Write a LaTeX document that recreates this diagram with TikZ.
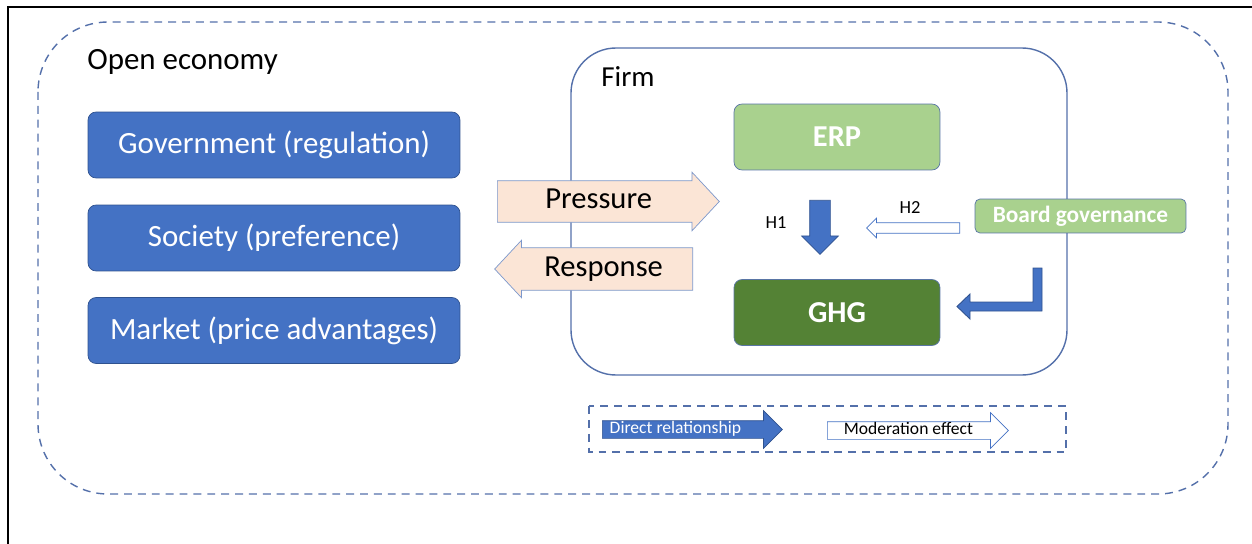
\documentclass[tikz,border=0pt]{standalone}
\usepackage{fontspec}
\setmainfont{Carlito}
\usepackage{tikz}
\usetikzlibrary{shapes.arrows}

\definecolor{govblue}{RGB}{68,114,196}
\definecolor{edgeblue}{RGB}{47,82,143}
\definecolor{lineblue}{RGB}{84,112,170}
\definecolor{erpgreen}{RGB}{169,209,142}
\definecolor{ghggreen}{RGB}{84,130,53}
\definecolor{peach}{RGB}{251,229,214}
\definecolor{peachedge}{RGB}{124,152,204}

\begin{document}
\begin{tikzpicture}[x=0.02cm,y=-0.02cm,
	actor/.style={draw=edgeblue, fill=govblue, rounded corners=0.16cm, minimum width=7.44cm, minimum height=1.32cm, text=white, font=\fontsize{17.6}{20}\selectfont},
	firmbox/.style={draw=edgeblue!80, rounded corners=0.16cm, minimum width=4.12cm, minimum height=1.32cm, text=white, font=\fontsize{17.3}{20}\selectfont\bfseries},
	flow/.style={single arrow, draw=peachedge, fill=peach, inner sep=0pt, single arrow head extend=0.17cm, single arrow tip angle=94, font=\fontsize{17.4}{20}\selectfont, text height=0.56cm, text depth=0.26cm},
	direct/.style={single arrow, draw=edgeblue, fill=govblue, inner xsep=0pt},
	moderate/.style={single arrow, draw=govblue, fill=white, inner xsep=0pt},
	legendtext/.style={font=\fontsize{10}{12}\selectfont, text height=0.24cm, text depth=0.1cm, inner ysep=0pt}]
					\useasboundingbox (0,0) rectangle (1252,544);
					
					% Draw the frame lines at top and left
					\draw[line width=1.2pt] (8,544) -- (8,7) -- (1252,7);
					
					% Draw the open economy, dashed
					\draw[lineblue, dashed, dash pattern=on 4.5pt off 3.4pt, line width=0.8pt, rounded corners=1.4cm] (38,22) rectangle (1228,494);
					\node[anchor=base west, inner sep=0pt, font=\fontsize{17.6}{20}\selectfont] (open) at (87,70) {Open economy};
					
					% Draw the three outside actors
					\foreach \name/\y/\txt in {gov/145/Government (regulation), soc/238/Society (preference), mkt/330.5/Market (price advantages)}
					\node[actor] (\name) at (274,\y) {\txt};
					
					% Draw the firm
					\draw[lineblue, line width=0.8pt, rounded corners=0.9cm] (571,48) rectangle (1067,375);
					\node[anchor=base west, inner sep=0pt, font=\fontsize{16.5}{20}\selectfont] (firm) at (601,87) {Firm};
					
					% Draw ERP, GHG and board governance
					\node[firmbox, fill=erpgreen] (erp) at (837,137) {ERP};
					\node[firmbox, fill=ghggreen] (ghg) at (837,312.5) {GHG};
					\node[firmbox, fill=erpgreen, minimum width=4.22cm, minimum height=0.68cm, rounded corners=0.1cm, font=\fontsize{13.3}{15}\selectfont\bfseries] (board) at (1080.5,216) {Board governance};
					
					% Draw pressure and response
					\node[flow, minimum height=4.44cm, anchor=tail] (pressure) at (497,201.5) {Pressure};
					\node[flow, minimum height=3.96cm, shape border rotate=180, single arrow head extend=0.15cm, text height=0.58cm, anchor=tail] (response) at (693,269) {Response};
					
					% Draw H1, ERP to GHG
					\node[direct, rotate=-90, inner ysep=0.2cm, minimum height=1.08cm, single arrow head extend=0.16cm, anchor=tail] (h1) at (820,200) {};
					\node[font=\fontsize{10.5}{12}\selectfont] (h1label) at (776,223) {H1};
					
					% Draw H2, board governance as moderator
					\node[moderate, shape border rotate=180, inner ysep=0.1cm, minimum height=1.86cm, single arrow head extend=0.09cm, anchor=tail] (h2) at (960,228) {};
					\node[font=\fontsize{10.5}{12}\selectfont] (h2label) at (910,208) {H2};
					
					% Draw the bent arrow to GHG
					\coordinate (corner) at (1042,311);
					\draw[edgeblue, fill=govblue, line width=0.5pt] (1033,268) -- (1042,268) -- (corner) -- (970,311) -- (970,319) -- (957,306.5) -- (970,294) -- (970,302) -- (1033,302) -- cycle;
					
					% Draw the legend
					\draw[lineblue, dashed, dash pattern=on 4.5pt off 3.4pt, line width=0.8pt] (589,406) rectangle (1066,452);
					\node[direct, legendtext, text=white, minimum height=3.6cm, single arrow head extend=0.2cm, anchor=tail] (direct) at (602,429.5) {Direct relationship\hspace*{0.5cm}};
					\node[moderate, legendtext, minimum height=3.62cm, single arrow head extend=0.18cm, anchor=tail] (moderation) at (827,430.5) {Moderation effect\hspace*{0.2cm}};
\end{tikzpicture}
\end{document}
